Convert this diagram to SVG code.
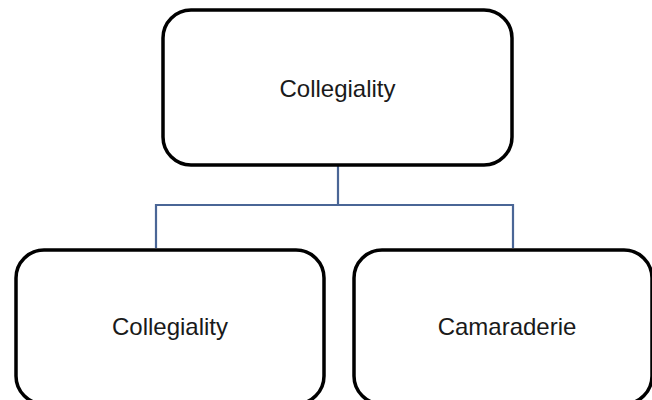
<svg xmlns="http://www.w3.org/2000/svg" width="652" height="400" viewBox="0 0 652 400">
<style>
.box{fill:#fff;stroke:#000;stroke-width:3.5}
.lbl{font-family:"Liberation Sans",Arial,sans-serif;font-size:24px;fill:#1a1a1a;text-anchor:middle}
.conn{fill:none;stroke:#4a6696;stroke-width:2.2}
</style>
<rect width="652" height="400" fill="#fff"/>
<g id="connectors">
<path class="conn" d="M338 165 V205 M156 248 V205 H513 V248"/>
</g>
<g id="top">
<rect class="box" x="163" y="10" width="349" height="155" rx="28"/>
<text class="lbl" x="337.5" y="97">Collegiality</text>
</g>
<g id="left">
<rect class="box" x="16" y="250" width="308" height="154" rx="28"/>
<text class="lbl" x="170" y="335">Collegiality</text>
</g>
<g id="right">
<rect class="box" x="354" y="250" width="298" height="154" rx="28"/>
<text class="lbl" x="507" y="335">Camaraderie</text>
</g>
</svg>
